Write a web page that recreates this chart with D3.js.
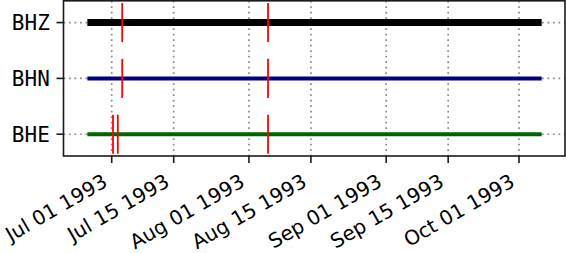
<!DOCTYPE html>
<html>
<head>
<meta charset="utf-8">
<script src="https://cdn.jsdelivr.net/npm/d3@7"></script>
<style>
  html, body { margin: 0; padding: 0; background: #fff; }
  svg { display: block; }
  .xlab { font-family: 'DejaVu Sans', sans-serif; font-size: 20px; }
  .ylab { font-family: 'DejaVu Sans Mono', monospace; font-size: 21px; }
</style>
</head>
<body>
<svg id="chart" width="566" height="253"></svg>
<script>
// ---- data ----
const channels = ["BHE", "BHN", "BHZ"];           // bottom to top
const channelColors = ["#006400", "#000080", "#000000"];
const channelWidths = [4, 4, 7];
const dataStart = ["1993-06-25T12:00", "1993-06-25T12:00", "1993-06-25T12:00"];
const dataEnd   = ["1993-10-06T03:00", "1993-10-06T03:00", "1993-10-06T03:00"];
const gapsBHE = ["1993-07-01T07:00", "1993-07-02T09:00", "1993-08-05T07:30"];
const gapsBHN = ["1993-07-03T09:00", "1993-08-05T07:30"];
const gapsBHZ = ["1993-07-03T09:00", "1993-08-05T07:30"];
const tickDates = ["1993-07-01", "1993-07-15", "1993-08-01", "1993-08-15", "1993-09-01", "1993-09-15", "1993-10-01"];
const tickLabels = ["Jul 01 1993", "Jul 15 1993", "Aug 01 1993", "Aug 15 1993", "Sep 01 1993", "Sep 15 1993", "Oct 01 1993"];
const xDomain = ["1993-06-20T02:40", "1993-10-11T09:20"];
const yDomain = [-0.39, 2.39];

const parse = d3.isoParse;
const gaps = [gapsBHE, gapsBHN, gapsBHZ];

const L = 63.5, R = 565, T = 0.8, B = 156;
const svg = d3.select("#chart");

const x = d3.scaleTime().domain(xDomain.map(parse)).range([L, R]);
const y = d3.scaleLinear().domain(yDomain).range([B, T]);

const gridColor = "#8a8a8a";
const dash = "1.7,3.8";

// grid vertical
svg.append("g").selectAll("line").data(tickDates).join("line")
  .attr("x1", d => x(parse(d))).attr("x2", d => x(parse(d)))
  .attr("y1", T).attr("y2", B)
  .attr("stroke", gridColor).attr("stroke-width", 1.7).attr("stroke-dasharray", dash);
// grid horizontal
svg.append("g").selectAll("line").data(channels).join("line")
  .attr("x1", L).attr("x2", R)
  .attr("y1", (d, i) => y(i)).attr("y2", (d, i) => y(i))
  .attr("stroke", gridColor).attr("stroke-width", 1.7).attr("stroke-dasharray", dash);

// data bars
svg.append("g").selectAll("line").data(channels).join("line")
  .attr("x1", (d, i) => x(parse(dataStart[i])))
  .attr("x2", (d, i) => x(parse(dataEnd[i])))
  .attr("y1", (d, i) => y(i)).attr("y2", (d, i) => y(i))
  .attr("stroke", (d, i) => channelColors[i])
  .attr("stroke-width", (d, i) => channelWidths[i]);

// gap markers
const gapData = [];
gaps.forEach((g, i) => g.forEach(t => gapData.push({ i, t })));
svg.append("g").selectAll("line").data(gapData).join("line")
  .attr("x1", d => x(parse(d.t))).attr("x2", d => x(parse(d.t)))
  .attr("y1", d => y(d.i - 0.35)).attr("y2", d => y(d.i + 0.35))
  .attr("stroke", "#ff0000").attr("stroke-width", 1.8);

// frame
svg.append("rect").attr("x", L).attr("y", T).attr("width", R - L).attr("height", B - T)
  .attr("fill", "none").attr("stroke", "#1a1a1a").attr("stroke-width", 1.6);

// x axis ticks
const xt = svg.append("g");
xt.selectAll("line").data(tickDates).join("line")
  .attr("x1", d => x(parse(d))).attr("x2", d => x(parse(d)))
  .attr("y1", B).attr("y2", B + 7)
  .attr("stroke", "#1a1a1a").attr("stroke-width", 1.6);
xt.selectAll("text").data(tickDates).join("text")
  .attr("class", "xlab")
  .attr("transform", d => `translate(${x(parse(d)) - 3},${185.5}) rotate(-30)`)
  .attr("text-anchor", "end")
  .attr("fill", "#000")
  .text((d, i) => tickLabels[i]);

// y axis ticks
const yt = svg.append("g");
yt.selectAll("line").data(channels).join("line")
  .attr("x1", L - 7).attr("x2", L)
  .attr("y1", (d, i) => y(i)).attr("y2", (d, i) => y(i))
  .attr("stroke", "#1a1a1a").attr("stroke-width", 1.6);
yt.selectAll("text").data(channels).join("text")
  .attr("class", "ylab")
  .attr("x", 49.8)
  .attr("y", (d, i) => y(i) + 7.5)
  .attr("text-anchor", "end")
  .attr("fill", "#000")
  .text(d => d);
</script>
</body>
</html>
